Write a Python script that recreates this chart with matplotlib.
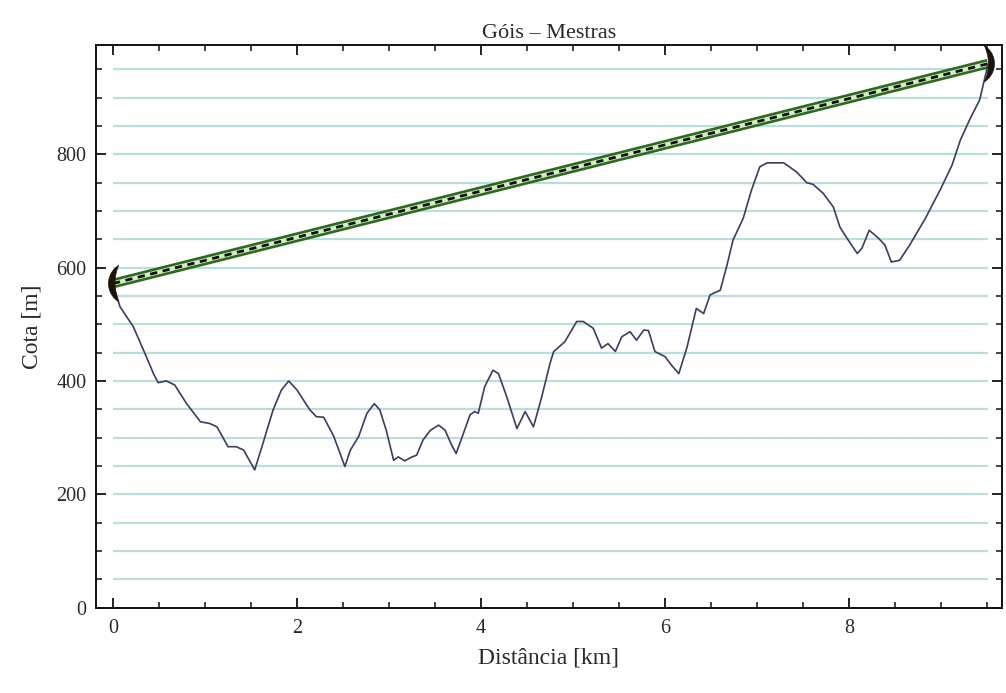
import numpy as np
import matplotlib
matplotlib.use("Agg")
import matplotlib.pyplot as plt
from matplotlib import transforms
from matplotlib.patches import Polygon
from matplotlib.ticker import MultipleLocator

# Terrain profile between the two sites
dist_km = [0.0, 0.076, 0.22, 0.33, 0.44, 0.49, 0.58, 0.67, 0.80, 0.95,
           1.05, 1.13, 1.25, 1.34, 1.42, 1.54, 1.63, 1.74, 1.83, 1.91,
           2.00, 2.14, 2.21, 2.29, 2.40, 2.52, 2.58, 2.67, 2.76, 2.84,
           2.90, 2.97, 3.05, 3.10, 3.17, 3.25, 3.30, 3.37, 3.45, 3.54,
           3.61, 3.68, 3.73, 3.81, 3.88, 3.93, 3.97, 4.04, 4.13, 4.19,
           4.28, 4.39, 4.48, 4.57, 4.66, 4.75, 4.79, 4.91, 5.04, 5.11,
           5.22, 5.31, 5.38, 5.46, 5.53, 5.62, 5.69, 5.77, 5.82, 5.89,
           6.00, 6.07, 6.15, 6.24, 6.34, 6.42, 6.49, 6.60, 6.67, 6.74,
           6.85, 6.94, 7.03, 7.11, 7.29, 7.43, 7.54, 7.61, 7.72, 7.83,
           7.90, 7.99, 8.09, 8.14, 8.22, 8.32, 8.39, 8.46, 8.55, 8.66,
           8.83, 8.99, 9.12, 9.21, 9.32, 9.42, 9.51]
elev_m = [572, 531, 496, 455, 413, 397, 400, 393, 360, 328,
          325, 319, 284, 284, 278, 243, 290, 349, 384, 400,
          384, 349, 337, 336, 302, 249, 278, 302, 343, 360,
          349, 313, 260, 266, 259, 266, 269, 296, 313, 322,
          313, 287, 272, 308, 340, 346, 343, 390, 419, 413,
          372, 316, 346, 319, 372, 431, 452, 469, 505, 505,
          493, 458, 466, 452, 478, 487, 472, 490, 489, 452,
          443, 428, 413, 460, 528, 519, 552, 560, 602, 649,
          687, 737, 778, 785, 785, 769, 750, 747, 731, 707,
          672, 649, 625, 634, 666, 652, 640, 610, 613, 640,
          687, 737, 781, 825, 864, 896, 958]

# Radio link: antenna heights at both ends
link_km = [0.0, 9.51]
link_m = [572, 960]

grid_levels = list(range(50, 1000, 50))
x_ticks = [0, 2, 4, 6, 8]
y_ticks = [0, 200, 400, 600, 800]

plt.rcParams['font.family'] = ['Liberation Serif', 'DejaVu Serif']

fig = plt.figure(figsize=(10.06, 6.93), dpi=100)
ax = fig.add_axes([96 / 1006, 1 - 607.6 / 693, (1002 - 96) / 1006, (607.6 - 45) / 693])

ax.set_xlim(-0.185, 9.663)
ax.set_ylim(0, 993)

# Horizontal reference lines across the profile range
ax.hlines(grid_levels, dist_km[0], dist_km[-1], colors='#b8dfdc', linewidth=1.6, zorder=1)

# Line of sight
ax.plot(link_km, link_m, color='#2c6a1e', linewidth=7.0, solid_capstyle='butt', zorder=3)
ax.plot(link_km, link_m, color='#d4ecc6', linewidth=3.2, solid_capstyle='butt', zorder=4)
ax.plot(link_km, link_m, color='#111111', linewidth=2.0, dashes=(2.6, 2.0), zorder=5)

# Terrain
ax.plot(dist_km, elev_m, color='#3b3d5e', linewidth=1.2, zorder=6)


def crescent(px_outer, px_inner, px_tip, half_h, n=40):
    """Crescent outline in pixel units; px_* are x offsets of the outer edge,
    inner edge (both at mid-height) and the tips."""
    def arc_center(m):
        return (px_tip ** 2 + half_h ** 2 - m ** 2) / (2 * (px_tip - m))
    pts = []
    a = arc_center(px_outer)
    r = abs(px_outer - a)
    ys = np.linspace(half_h, -half_h, n)
    sgn = 1 if px_outer < a else -1
    for yy in ys:
        pts.append((a - sgn * np.sqrt(max(r ** 2 - yy ** 2, 0)), yy))
    a2 = arc_center(px_inner)
    r2 = abs(px_inner - a2)
    for yy in ys[::-1]:
        pts.append((a2 - sgn * np.sqrt(max(r2 ** 2 - yy ** 2, 0)), yy))
    return np.array(pts) / fig.dpi


for (xk, ym), shape in zip(zip(link_km, link_m),
                           [(-4.5, 2.0, 5.5, 18), (6.5, 0.5, -3.5, 18)]):
    trans = fig.dpi_scale_trans + transforms.ScaledTranslation(xk, ym, ax.transData)
    ax.add_patch(Polygon(crescent(*shape), closed=True, facecolor='#1c140a',
                         edgecolor='#1c140a', linewidth=0.5, transform=trans,
                         zorder=7, clip_on=False))

# Frame and ticks
ax.xaxis.set_major_locator(MultipleLocator(2))
ax.xaxis.set_minor_locator(MultipleLocator(0.5))
ax.yaxis.set_major_locator(MultipleLocator(200))
ax.yaxis.set_minor_locator(MultipleLocator(50))
ax.set_xticks(x_ticks)
ax.set_yticks(y_ticks)
ax.tick_params(which='both', direction='in', top=True, right=True,
               colors='#111111', labelcolor='#2a2a2a', labelsize=14.5)
ax.tick_params(which='major', length=7, width=1.3)
ax.tick_params(which='minor', length=4, width=1.1)
ax.tick_params(axis='x', pad=8)
ax.tick_params(axis='y', pad=7)
for s in ax.spines.values():
    s.set_linewidth(1.4)
    s.set_color('#111111')

ax.set_xlabel('Distância [km]', fontsize=17, color='#2a2a2a', labelpad=7)
ax.set_ylabel('Cota [m]', fontsize=17, color='#2a2a2a', labelpad=10)
ax.set_title('Góis – Mestras', fontsize=16, color='#2a2a2a', pad=5)

fig.savefig('out.png', dpi=100)
